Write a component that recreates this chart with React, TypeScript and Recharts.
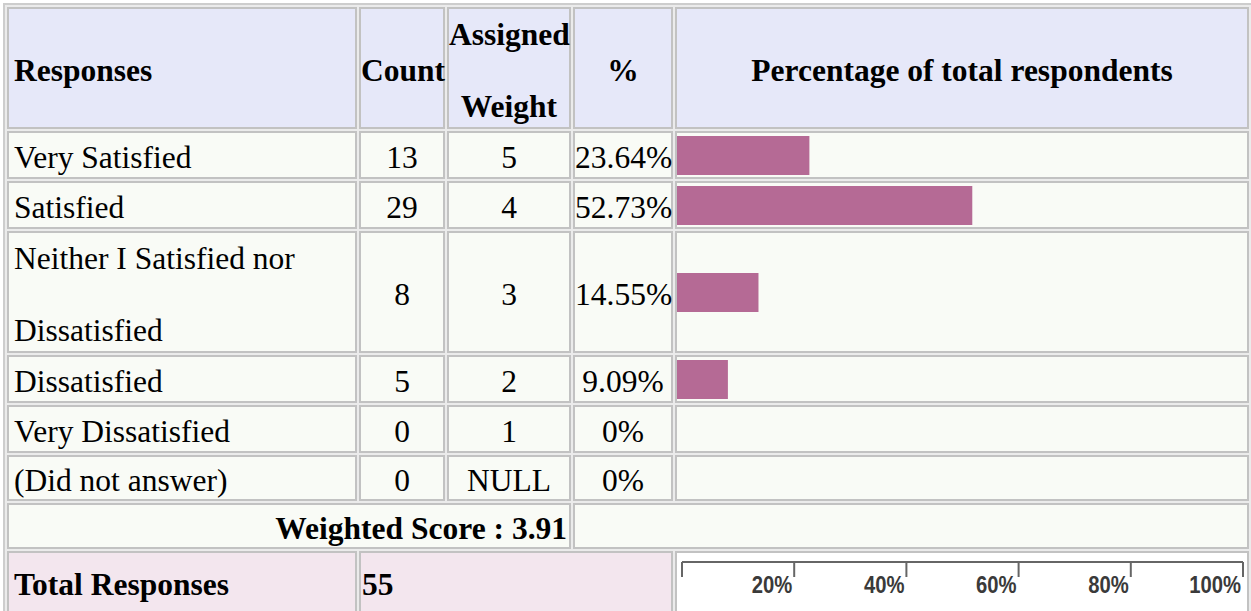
import React from "react";
import { Bar, BarChart, XAxis, YAxis } from "recharts";

// survey results
const responses = [
  "Very Satisfied",
  "Satisfied",
  "Neither I Satisfied nor\n\nDissatisfied",
  "Dissatisfied",
  "Very Dissatisfied",
  "(Did not answer)",
];
const counts = [13, 29, 8, 5, 0, 0];
const weights = ["5", "4", "3", "2", "1", "NULL"];
const percents = [23.64, 52.73, 14.55, 9.09, 0, 0];
const percentLabels = ["23.64%", "52.73%", "14.55%", "9.09%", "0%", "0%"];
const axisTicks = [0, 20, 40, 60, 80, 100];
const weightedScore = "3.91";
const totalResponses = 55;

const rowHeights = [48, 48, 122, 48, 48, 46];

const HEAD_BG = "#e6e8f9";
const ROW_BG = "#f9fbf6";
const TOTAL_BG = "#f3e6ee";
const BAR = "#b56a95";
const SERIF = '"Liberation Serif", "Times New Roman", serif';

const cell: React.CSSProperties = {
  border: "2px solid #c2c2c2",
  boxSizing: "border-box",
  padding: 0,
  verticalAlign: "middle",
  overflow: "visible",
  whiteSpace: "nowrap",
};
// text cells sit a few px lower than the middle
const txt: React.CSSProperties = { ...cell, paddingTop: 6 };

function RowBar({ name, pct, height }: { name: string; pct: number; height: number }) {
  return (
    <BarChart
      width={570}
      height={height}
      layout="vertical"
      data={[{ name, pct }]}
      margin={{ top: 0, right: 10, bottom: 0, left: 0 }}
    >
      <XAxis type="number" domain={[0, 100]} hide />
      <YAxis type="category" dataKey="name" hide />
      <Bar dataKey="pct" fill={BAR} barSize={39} isAnimationActive={false} />
    </BarChart>
  );
}

function ScaleTick({ x, y, payload }: any) {
  if (payload.value === 0) return <g />;
  return (
    <g transform={`translate(${x - 2},${y})`}>
      <text
        x={0}
        y={16}
        textAnchor="end"
        fill="#3a3a3a"
        fontSize={23}
        fontWeight="bold"
        fontFamily='"Liberation Sans", Arial, sans-serif'
        transform="scale(0.88,1)"
      >
        {payload.value}%
      </text>
    </g>
  );
}

function ScaleAxis() {
  return (
    <BarChart
      width={570}
      height={58}
      data={percents.map((p) => ({ pct: p }))}
      margin={{ top: 7, right: 4, bottom: 0, left: 5 }}
    >
      <XAxis
        type="number"
        dataKey="pct"
        domain={[0, 100]}
        ticks={axisTicks}
        interval={0}
        height={49}
        tickSize={15}
        tickMargin={0}
        stroke="#666"
        strokeWidth={2}
        tick={<ScaleTick />}
      />
    </BarChart>
  );
}

export default function App() {
  return (
    <div
      style={{
        position: "absolute",
        left: 0,
        top: 0,
        width: 1251,
        height: 611,
        overflow: "hidden",
        background: "#fff",
      }}
    >
      <table
        style={{
          position: "absolute",
          left: 3,
          top: 3,
          width: 1250,
          borderCollapse: "separate",
          borderSpacing: 2,
          border: "2px solid #cdcdcd",
          background: "#ebebeb",
          tableLayout: "fixed",
          fontFamily: SERIF,
          fontSize: 31.5,
          color: "#000",
        }}
      >
        <colgroup>
          <col style={{ width: 350 }} />
          <col style={{ width: 86 }} />
          <col style={{ width: 124 }} />
          <col style={{ width: 100 }} />
          <col style={{ width: 574 }} />
        </colgroup>
        <tbody>
          <tr style={{ height: 122, background: HEAD_BG, fontWeight: "bold" }}>
            <td style={{ ...txt, width: 350, paddingLeft: 5 }}>Responses</td>
            <td style={{ ...txt, width: 86, textAlign: "center" }}>Count</td>
            <td
              style={{
                ...txt,
                width: 124,
                textAlign: "center",
                whiteSpace: "pre-line",
                lineHeight: "36px",
              }}
            >
              {"Assigned\n\nWeight"}
            </td>
            <td style={{ ...txt, width: 100, textAlign: "center" }}>%</td>
            <td style={{ ...txt, width: 574, textAlign: "center" }}>
              Percentage of total respondents
            </td>
          </tr>
          {responses.map((r, i) => (
            <tr key={r} style={{ height: rowHeights[i], background: ROW_BG }}>
              <td
                style={{
                  ...txt,
                  paddingLeft: 5,
                  whiteSpace: "pre-line",
                  lineHeight: i === 2 ? "36px" : "normal",
                }}
              >
                {r}
              </td>
              <td style={{ ...txt, textAlign: "center" }}>{counts[i]}</td>
              <td style={{ ...txt, textAlign: "center" }}>{weights[i]}</td>
              <td style={{ ...txt, textAlign: "center" }}>{percentLabels[i]}</td>
              <td style={cell}>
                <RowBar name={r} pct={percents[i]} height={rowHeights[i] - 4} />
              </td>
            </tr>
          ))}
          <tr style={{ height: 44, background: ROW_BG }}>
            <td
              colSpan={3}
              style={{ ...txt, textAlign: "right", paddingRight: 2, fontWeight: "bold" }}
            >
              Weighted Score : {weightedScore}
            </td>
            <td colSpan={2} style={cell} />
          </tr>
          <tr style={{ height: 62, fontWeight: "bold" }}>
            <td style={{ ...txt, background: TOTAL_BG, paddingLeft: 5 }}>Total Responses</td>
            <td colSpan={3} style={{ ...txt, background: TOTAL_BG, paddingLeft: 1 }}>
              {totalResponses}
            </td>
            <td style={{ ...cell, background: "#fff" }}>
              <ScaleAxis />
            </td>
          </tr>
        </tbody>
      </table>
    </div>
  );
}
